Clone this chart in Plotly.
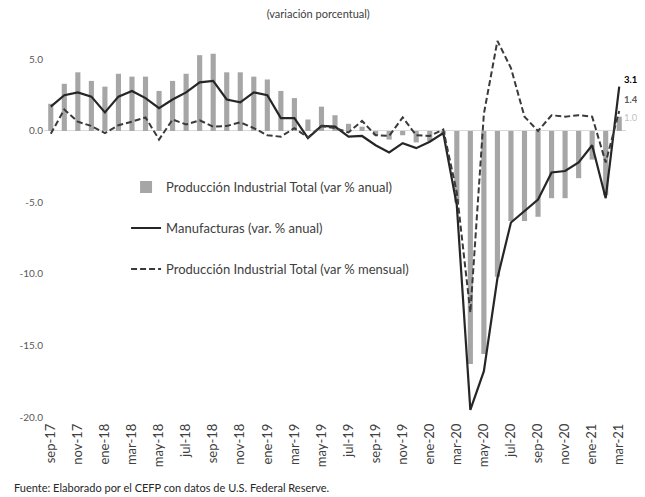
import plotly.graph_objects as go

# Meses (sep-17 a mar-21)
meses = [
    "sep-17", "oct-17", "nov-17", "dic-17",
    "ene-18", "feb-18", "mar-18", "abr-18", "may-18", "jun-18",
    "jul-18", "ago-18", "sep-18", "oct-18", "nov-18", "dic-18",
    "ene-19", "feb-19", "mar-19", "abr-19", "may-19", "jun-19",
    "jul-19", "ago-19", "sep-19", "oct-19", "nov-19", "dic-19",
    "ene-20", "feb-20", "mar-20", "abr-20", "may-20", "jun-20",
    "jul-20", "ago-20", "sep-20", "oct-20", "nov-20", "dic-20",
    "ene-21", "feb-21", "mar-21",
]

# Producción Industrial Total (var % anual)
pit_anual = [
    1.9, 3.3, 4.1, 3.5,
    3.1, 4.0, 3.8, 3.8, 2.8, 3.5,
    4.0, 5.3, 5.4, 4.1, 4.1, 3.8,
    3.6, 2.8, 2.3, 0.8, 1.7, 1.1,
    0.5, 0.3, -0.3, -0.6, -0.3, -0.8,
    -0.7, -0.3, -5.0, -16.3, -15.6, -10.2,
    -6.3, -6.3, -6.0, -4.7, -4.7, -3.3,
    -2.0, -4.5, 1.0,
]

# Manufacturas (var. % anual)
manufacturas = [
    1.7, 2.5, 2.7, 2.4,
    1.3, 2.4, 2.8, 2.3, 1.6, 2.2,
    2.7, 3.4, 3.5, 2.2, 2.0, 2.7,
    2.5, 0.9, 0.9, -0.5, 0.35, 0.3,
    -0.4, -0.35, -1.0, -1.5, -0.85, -1.2,
    -0.75, -0.15, -5.2, -19.5, -16.8, -10.3,
    -6.4, -5.6, -4.8, -2.9, -2.8, -2.2,
    -1.0, -4.7, 3.1,
]

# Producción Industrial Total (var % mensual)
pit_mensual = [
    -0.2, 1.5, 0.65, 0.35,
    -0.15, 0.4, 0.65, 0.95, -0.6, 0.8,
    0.45, 0.75, 0.3, 0.35, 0.6, 0.2,
    -0.3, -0.4, 0.2, -0.45, 0.35, 0.2,
    -0.1, 0.7, -0.3, -0.35, 0.95, -0.3,
    -0.35, 0.1, -4.3, -12.7, 1.2, 6.3,
    4.4, 1.0, 0.0, 1.1, 1.0, 1.1,
    1.0, -2.2, 1.4,
]

FONT = "Lato, 'Noto Sans', sans-serif"

fig = go.Figure()

fig.add_trace(
    go.Bar(
        x=meses,
        y=pit_anual,
        name="Producción Industrial Total (var % anual)",
        marker={"color": "#a6a6a6", "line": {"width": 0}},
        width=0.38,
        legendgroup="a",
    )
)
fig.add_trace(
    go.Scatter(
        x=meses,
        y=manufacturas,
        mode="lines",
        name="Manufacturas (var. % anual)",
        line={"color": "#262626", "width": 2.2},
        legendgroup="b",
    )
)
fig.add_trace(
    go.Scatter(
        x=meses,
        y=pit_mensual,
        mode="lines",
        name="Producción Industrial Total (var % mensual)",
        line={"color": "#3a3a3a", "width": 2, "dash": "6px,3px"},
        legendgroup="c",
    )
)

# etiquetas del último dato
fig.add_annotation(x=meses[-1], y=manufacturas[-1], text="<b>3.1</b>", showarrow=False,
                   xanchor="left", xshift=3, yshift=7,
                   font={"size": 9.5, "color": "#000000", "family": FONT})
fig.add_annotation(x=meses[-1], y=pit_mensual[-1], text="<b>1.4</b>", showarrow=False,
                   xanchor="left", xshift=3, yshift=11,
                   font={"size": 9.5, "color": "#595959", "family": FONT})
fig.add_annotation(x=meses[-1], y=pit_anual[-1], text="1.0", showarrow=False,
                   xanchor="left", xshift=3, yshift=-1,
                   font={"size": 9.5, "color": "#bfbfbf", "family": FONT})

# fuente
fig.add_annotation(xref="paper", yref="paper", x=-0.055, y=-0.2084,
                   xanchor="left", yanchor="bottom", showarrow=False,
                   text="Fuente: Elaborado por el CEFP con datos de U.S. Federal Reserve.",
                   font={"size": 11, "color": "#262626", "family": FONT})

fig.update_layout(
    width=637,
    height=489,
    margin={"l": 32, "r": 19, "t": 30, "b": 80},
    paper_bgcolor="white",
    plot_bgcolor="white",
    font={"family": FONT, "color": "#404040"},
    title={
        "text": "(variación porcentual)",
        "x": 0.487,
        "xanchor": "center",
        "y": 0.988,
        "yanchor": "middle",
        "font": {"size": 11, "color": "#404040", "family": FONT},
    },
    showlegend=True,
    legend={
        "x": 0.141,
        "y": 0.646,
        "xanchor": "left",
        "yanchor": "top",
        "bgcolor": "rgba(0,0,0,0)",
        "font": {"size": 13, "color": "#404040", "family": FONT},
        "tracegroupgap": 21,
        "itemwidth": 30,
    },
    xaxis={
        "type": "category",
        "tickmode": "array",
        "tickvals": meses[::2],
        "ticktext": meses[::2],
        "tickangle": -90,
        "tickfont": {"size": 13, "color": "#404040", "family": FONT},
        "ticklabelstandoff": 3,
        "showgrid": False,
        "showline": False,
        "ticks": "",
        "range": [-0.5, 42.5],
    },
    yaxis={
        "range": [-20, 6.5],
        "tickvals": [5, 0, -5, -10, -15, -20],
        "ticktext": ["5.0", "0.0", "-5.0", "-10.0", "-15.0", "-20.0"],
        "tickfont": {"size": 10, "color": "#595959", "family": FONT},
        "showgrid": False,
        "zeroline": True,
        "zerolinecolor": "#d9d9d9",
        "zerolinewidth": 1,
        "showline": False,
        "ticks": "",
    },
)

fig.write_html("out.html")
